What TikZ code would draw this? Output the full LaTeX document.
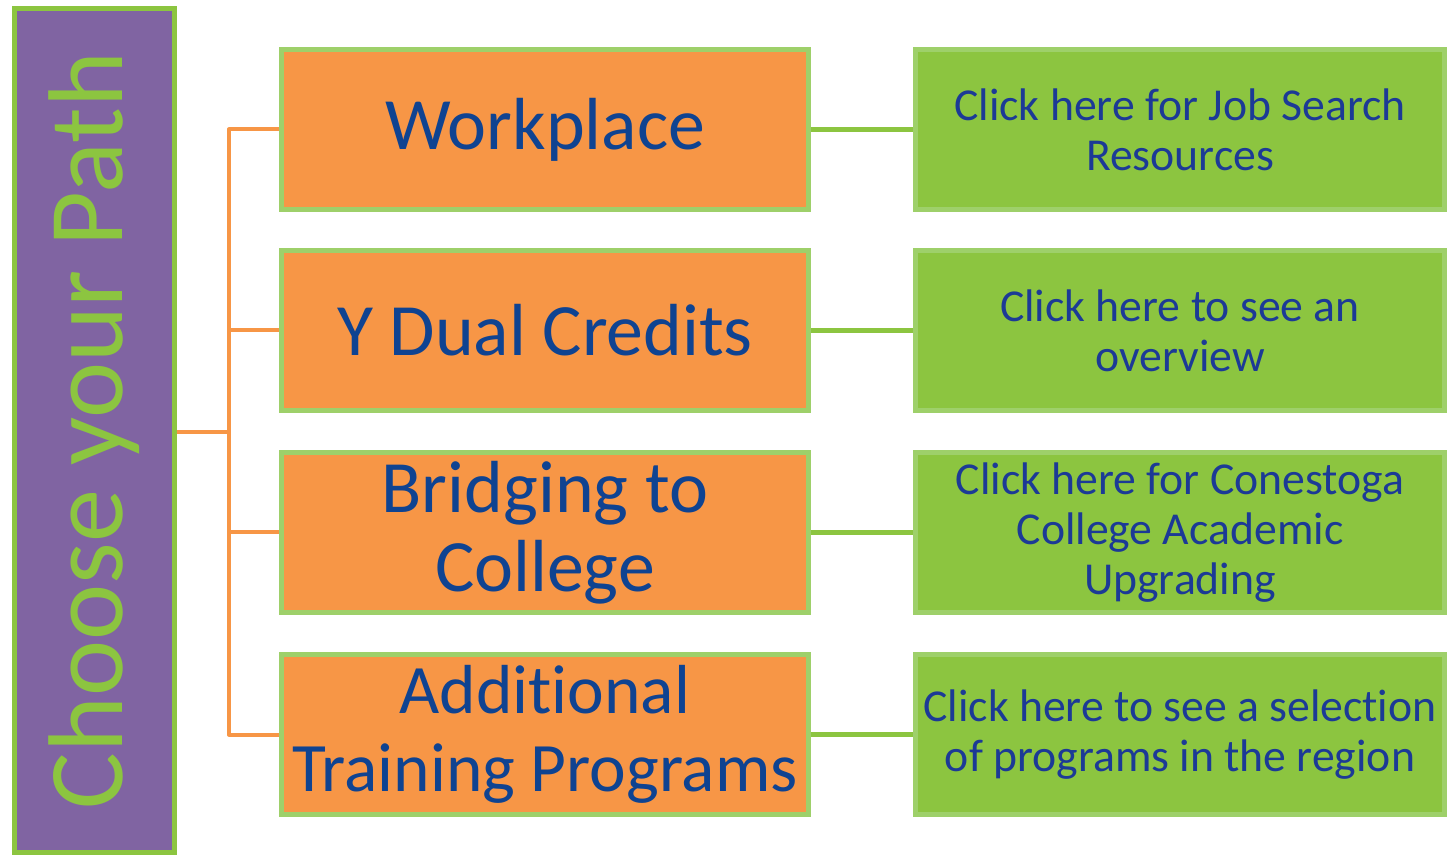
\documentclass[tikz,border=0pt]{standalone}
\usepackage{fontspec}
\setmainfont{Carlito}[Ligatures=NoCommon]
\usepackage{tikz}
\usetikzlibrary{positioning}

\definecolor{pathviolet}{HTML}{8064A2}
\definecolor{pathgreen}{HTML}{8CC540}
\definecolor{rimgreen}{HTML}{9ED06A}
\definecolor{boxorange}{HTML}{F79646}
\definecolor{inkblue}{HTML}{0F4391}
\definecolor{linkblue}{HTML}{1C3A96}

\begin{document}
\begin{tikzpicture}[
   choice/.style={
      draw = rimgreen,
      fill = boxorange,
      line width = .1cm,
      minimum width = 10.54cm,
      minimum height = 3.2cm,
      inner xsep = 0pt,
      align = center,
      text = inkblue,
      font = \fontsize{42}{45}\selectfont
   },
   resource/.style={
      draw = rimgreen,
      fill = pathgreen,
      line width = .1cm,
      minimum width = 10.58cm,
      minimum height = 3.2cm,
      align = center,
      text = linkblue,
      font = \fontsize{26}{28.5}\selectfont
   },
   branch/.style={
      draw = boxorange,
      line width = .08cm,
      line join = round
   },
   link/.style={
      draw = pathgreen,
      line width = .09cm
   }
]
   \useasboundingbox (0,0) rectangle (28.98,-17.1);

   \node[draw = pathgreen, fill = pathviolet, line width = .1cm,
      rotate = 90, minimum width = 16.88cm, minimum height = 3.2cm,
      text = pathgreen, font = \fontsize{60.5}{62}\selectfont]
      (path) at (1.89,-8.61) {Choose your Path};

   \node[choice] (work) at (10.9,-2.59) {Workplace};
   \node[choice] (dual) at (10.9,-6.61) {Y Dual Credits};
   \node[choice] (bridge) at (10.9,-10.65) {Bridging to\\College};
   \node[choice, font = \fontsize{39.5}{44}\selectfont] (train) at (10.9,-14.69) {Additional\\Training Programs};

   \node[resource] (work-link) at (23.6,-2.59) {Click here for Job Search\\Resources};
   \node[resource] (dual-link) at (23.6,-6.61) {Click here to see an\\overview};
   \node[resource] (bridge-link) at (23.6,-10.65) {Click here for Conestoga\\College Academic\\Upgrading};
   \node[resource] (train-link) at (23.6,-14.69) {Click here to see a selection\\of programs in the region};

   \coordinate (fork) at (4.58,-8.64);
   \draw[branch] (fork -| path.south) -- (fork);
   \foreach \n in {work,dual,bridge,train}
      \draw[branch] (fork) |- (\n.west);

   \foreach \n in {work,dual,bridge,train}
      \draw[link] (\n.east) -- (\n-link.west);

\end{tikzpicture}
\end{document}
